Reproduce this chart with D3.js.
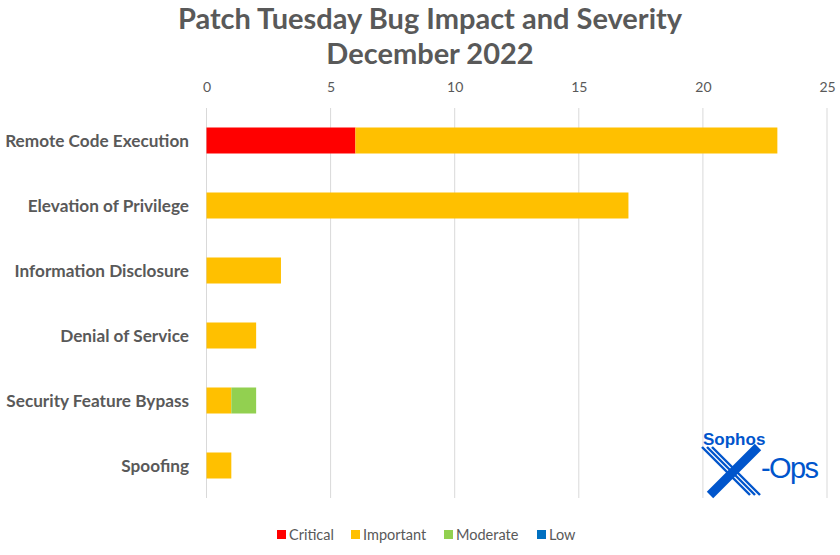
<!DOCTYPE html>
<html><head><meta charset="utf-8">
<script src="https://cdn.jsdelivr.net/npm/d3@7"></script>
<style>body{margin:0;background:#fff}svg{display:block}</style>
</head><body><svg id="c" width="840" height="555"></svg>
<script>
const categories = ["Remote Code Execution","Elevation of Privilege","Information Disclosure","Denial of Service","Security Feature Bypass","Spoofing"];
const critical  = [6,0,0,0,0,0];
const important = [17,17,3,2,1,1];
const moderate  = [0,0,0,0,1,0];
const low       = [0,0,0,0,0,0];
const seriesNames = ["Critical","Important","Moderate","Low"];
const seriesColors = ["#FF0000","#FFC000","#92D050","#0070C0"];
const xTicks = [0,5,10,15,20,25];
const titleLines = ["Patch Tuesday Bug Impact and Severity","December 2022"];

const svg = d3.select("#c");
const font = "Lato, 'Open Sans', sans-serif";
const gray = "#595959";
const m = {left:206.5, right:827, top:108, bottom:498};

const x = d3.scaleLinear().domain([0,25]).range([m.left, m.right]);
const y = d3.scaleBand().domain(categories).range([m.top, m.bottom]).paddingInner(0.6).paddingOuter(0.3);

// title
svg.selectAll("text.title").data(titleLines).enter().append("text")
  .attr("x", 430).attr("y",(d,i)=>29+i*34.5).attr("text-anchor","middle")
  .attr("font-family",font).attr("font-weight","bold").attr("font-size",29).attr("fill",gray).text(d=>d);

// grid
svg.append("g").selectAll("line").data(xTicks).enter().append("line")
  .attr("x1",d=>x(d)).attr("x2",d=>x(d)).attr("y1",m.top).attr("y2",m.bottom)
  .attr("stroke","#D9D9D9").attr("stroke-width",1);

// top axis labels
const ax = svg.append("g").attr("transform",`translate(0,${m.top-10})`)
  .call(d3.axisTop(x).tickValues(xTicks).tickSize(0).tickPadding(6));
ax.select(".domain").remove();
ax.selectAll("text").attr("font-family",font).attr("font-size",14).attr("fill",gray);

// stacked data
const rows = categories.map((c,i)=>({cat:c, Critical:critical[i], Important:important[i], Moderate:moderate[i], Low:low[i]}));
const stack = d3.stack().keys(seriesNames)(rows);
svg.append("g").selectAll("g").data(stack).enter().append("g")
  .attr("fill",(d,i)=>seriesColors[i])
  .selectAll("rect").data(d=>d).enter().append("rect")
  .attr("x",d=>x(d[0])).attr("width",d=>x(d[1])-x(d[0]))
  .attr("y",d=>y(d.data.cat)).attr("height",y.bandwidth());

// category labels
svg.append("g").selectAll("text").data(categories).enter().append("text")
  .attr("x",189).attr("y",d=>y(d)+y.bandwidth()/2).attr("dy","0.35em")
  .attr("text-anchor","end").attr("font-family",font).attr("font-weight","bold")
  .attr("font-size",17.2).attr("fill",gray).text(d=>d);

// legend
const legX = [277,351,444,537];
const leg = svg.append("g").selectAll("g").data(seriesNames).enter().append("g")
  .attr("transform",(d,i)=>`translate(${legX[i]},535)`);
leg.append("rect").attr("x",0).attr("y",-5).attr("width",9).attr("height",9).attr("fill",(d,i)=>seriesColors[i]);
leg.append("text").attr("x",12).attr("y",0).attr("dy","0.35em").attr("font-family",font)
  .attr("font-size",14.5).attr("fill",gray).text(d=>d);

// logo
const blue = "#0055CC";
const lg = svg.append("g").attr("transform","translate(703,428)");
lg.append("text").attr("x",0).attr("y",17).attr("font-family","'Liberation Sans', Arial, sans-serif")
  .attr("font-weight","bold").attr("font-size",17).attr("fill",blue).text("Sophos");
// stylized X: striped "\" and solid "/"
const xs = lg.append("g").attr("stroke",blue).attr("fill","none").attr("stroke-linecap","butt");
[-5,0,5].forEach(o=>{
  xs.append("line").attr("x1",4+o).attr("y1",19).attr("x2",52+o).attr("y2",67).attr("stroke-width",2.4);
});
xs.append("line").attr("x1",55).attr("y1",19).attr("x2",7).attr("y2",67).attr("stroke-width",9);
lg.append("text").attr("x",58).attr("y",50).attr("font-family","'Liberation Sans', Arial, sans-serif")
  .attr("font-size",29).attr("textLength",58).attr("fill",blue).text("-Ops");
</script></body></html>
